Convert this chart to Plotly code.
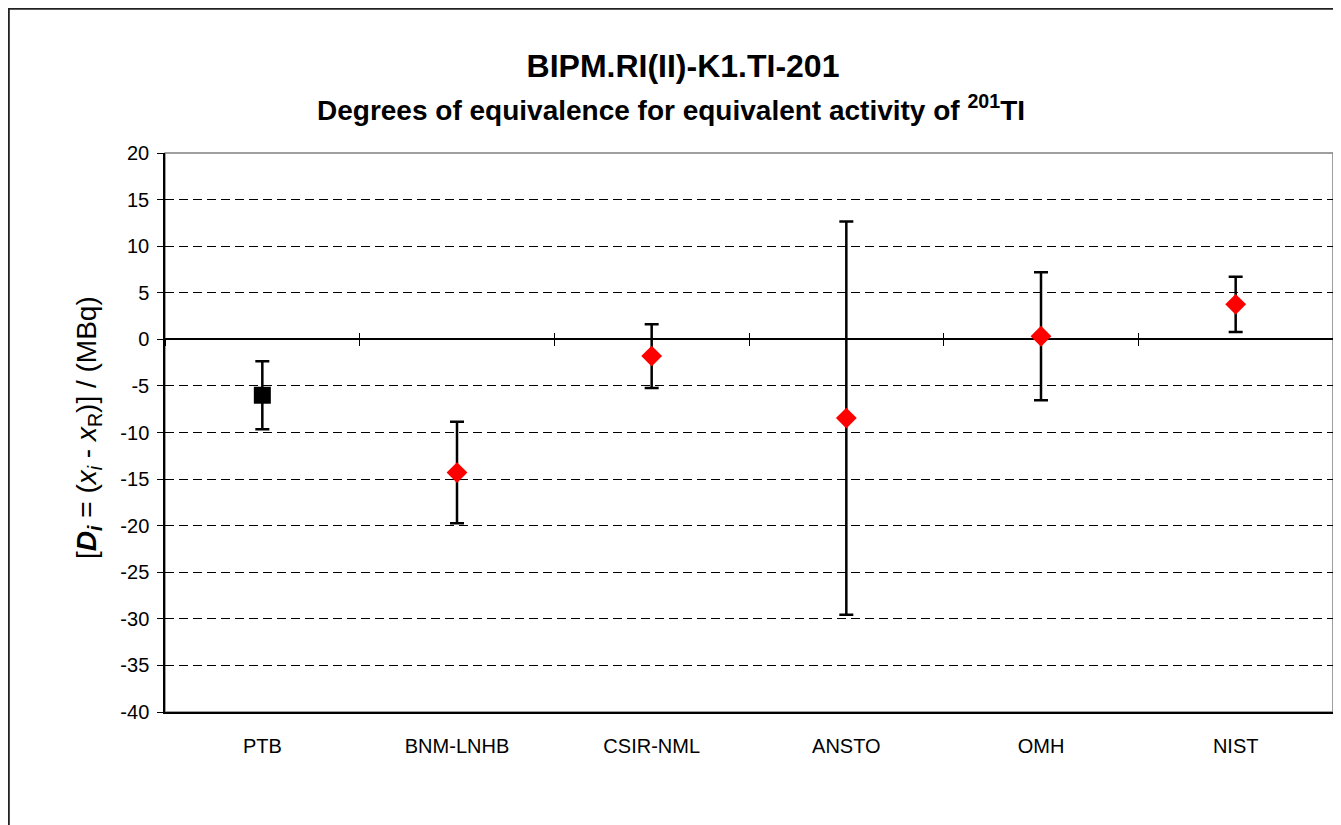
import plotly.graph_objects as go

# ---- data ----
labs = ["PTB", "BNM-LNHB", "CSIR-NML", "ANSTO", "OMH", "NIST"]
deg = [-6.0, -14.3, -1.8, -8.45, 0.33, 3.76]
unc = [3.65, 5.45, 3.43, 21.1, 6.87, 2.97]
yticks = [20, 15, 10, 5, 0, -5, -10, -15, -20, -25, -30, -35, -40]
ytext = ["20", "15", "10", "5", "0", "-5", "-10", "-15", "-20", "-25", "-30", "-35", "-40"]

FONT = "Liberation Sans, Arial, sans-serif"
OFF = 8  # page body margin
W, H = 1341 - OFF, 825 - OFF
L, R, T, B = 165 - OFF, 8, 153 - OFF, 825 - 712
pw, ph = W - L - R, H - T - B

def px_x(sx):
    return (sx - OFF - L) / pw

def px_y(sy):
    return (H - B - (sy - OFF)) / ph

idx = list(range(len(labs)))

fig = go.Figure()
# reference lab (square)
fig.add_trace(go.Scatter(
    x=idx[:1], y=deg[:1], mode="markers",
    marker=dict(symbol="square", size=17, color="black"),
    error_y=dict(type="data", array=unc[:1], color="black", thickness=2.5, width=7),
    showlegend=False, hoverinfo="skip"))
# other labs (red diamonds)
fig.add_trace(go.Scatter(
    x=idx[1:], y=deg[1:], mode="markers",
    marker=dict(symbol="diamond", size=16, color="#ff0000"),
    error_y=dict(type="data", array=unc[1:], color="black", thickness=2.5, width=7),
    showlegend=False, hoverinfo="skip"))
# invisible traces to bind the crossing tick axes at the zero line
for ax in ("x2", "x3"):
    fig.add_trace(go.Scatter(x=[None], y=[None], xaxis=ax, yaxis="y",
                             mode="markers", showlegend=False, hoverinfo="skip"))

bounds = [i - 0.5 for i in range(len(labs) + 1)]
zero_pos = (0 - (-40)) / 60

fig.update_layout(
    width=W, height=H,
    margin=dict(l=L, r=R, t=T, b=B),
    paper_bgcolor="white", plot_bgcolor="white",
    font=dict(family=FONT, size=20, color="black"),
    xaxis=dict(range=[-0.5, len(labs) - 0.5], tickmode="array", tickvals=idx, ticktext=labs,
               showgrid=False, zeroline=False, showline=True, linecolor="black", linewidth=1.5,
               ticks="", ticklabelstandoff=15, tickfont=dict(size=20)),
    xaxis2=dict(range=[-0.5, len(labs) - 0.5], overlaying="x", anchor="free", position=zero_pos,
                side="bottom", tickmode="array", tickvals=bounds, ticks="outside", ticklen=6,
                tickcolor="black", tickwidth=1, showticklabels=False, showgrid=False,
                zeroline=False, showline=False),
    xaxis3=dict(range=[-0.5, len(labs) - 0.5], overlaying="x", anchor="free", position=zero_pos,
                side="bottom", tickmode="array", tickvals=bounds, ticks="inside", ticklen=6,
                tickcolor="black", tickwidth=1, showticklabels=False, showgrid=False,
                zeroline=False, showline=False),
    yaxis=dict(range=[-40, 20], tickmode="array", tickvals=yticks, ticktext=ytext,
               ticks="outside", ticklen=6, tickcolor="black", tickwidth=1,
               showline=True, linecolor="black", linewidth=1.5,
               showgrid=True, gridcolor="black", gridwidth=1, griddash="9px,5px",
               zeroline=True, zerolinecolor="black", zerolinewidth=1.5,
               ticklabelstandoff=4, tickfont=dict(size=20)),
    title=dict(text="<b>BIPM.RI(II)-K1.TI-201</b>", xref="container", yref="container",
               x=(683 - OFF) / W, y=1 - (66 - OFF) / H, xanchor="center", yanchor="middle",
               font=dict(family=FONT, size=32, color="black")),
    annotations=[
        dict(text="<b>Degrees of equivalence for equivalent activity of <sup>201</sup>TI</b>",
             xref="paper", yref="paper", x=px_x(671), y=px_y(108),
             xanchor="center", yanchor="middle", showarrow=False,
             font=dict(family=FONT, size=28, color="black")),
        dict(text="[<b><i>D</i></b><sub><b><i>i</i></b></sub> = (<i>x</i><sub><i>i</i></sub> - <i>x</i><sub>R</sub>)] / (MBq)",
             xref="paper", yref="paper", x=px_x(88), y=px_y(428), textangle=-90,
             xanchor="center", yanchor="middle", showarrow=False,
             font=dict(family=FONT, size=28, color="black")),
    ],
    shapes=[
        # plot-area border (gray)
        dict(type="rect", xref="paper", yref="paper", x0=0, x1=1, y0=0, y1=1,
             line=dict(color="#808080", width=1.5), layer="below"),
        # outer chart border (top and left edges visible)
        dict(type="line", xref="paper", yref="paper",
             x0=px_x(8), x1=px_x(1345), y0=px_y(8.9), y1=px_y(8.9),
             line=dict(color="#222222", width=1.8)),
        dict(type="line", xref="paper", yref="paper",
             x0=px_x(8.9), x1=px_x(8.9), y0=px_y(8), y1=px_y(830),
             line=dict(color="#222222", width=1.8)),
    ],
)

fig.write_html("out.html")
